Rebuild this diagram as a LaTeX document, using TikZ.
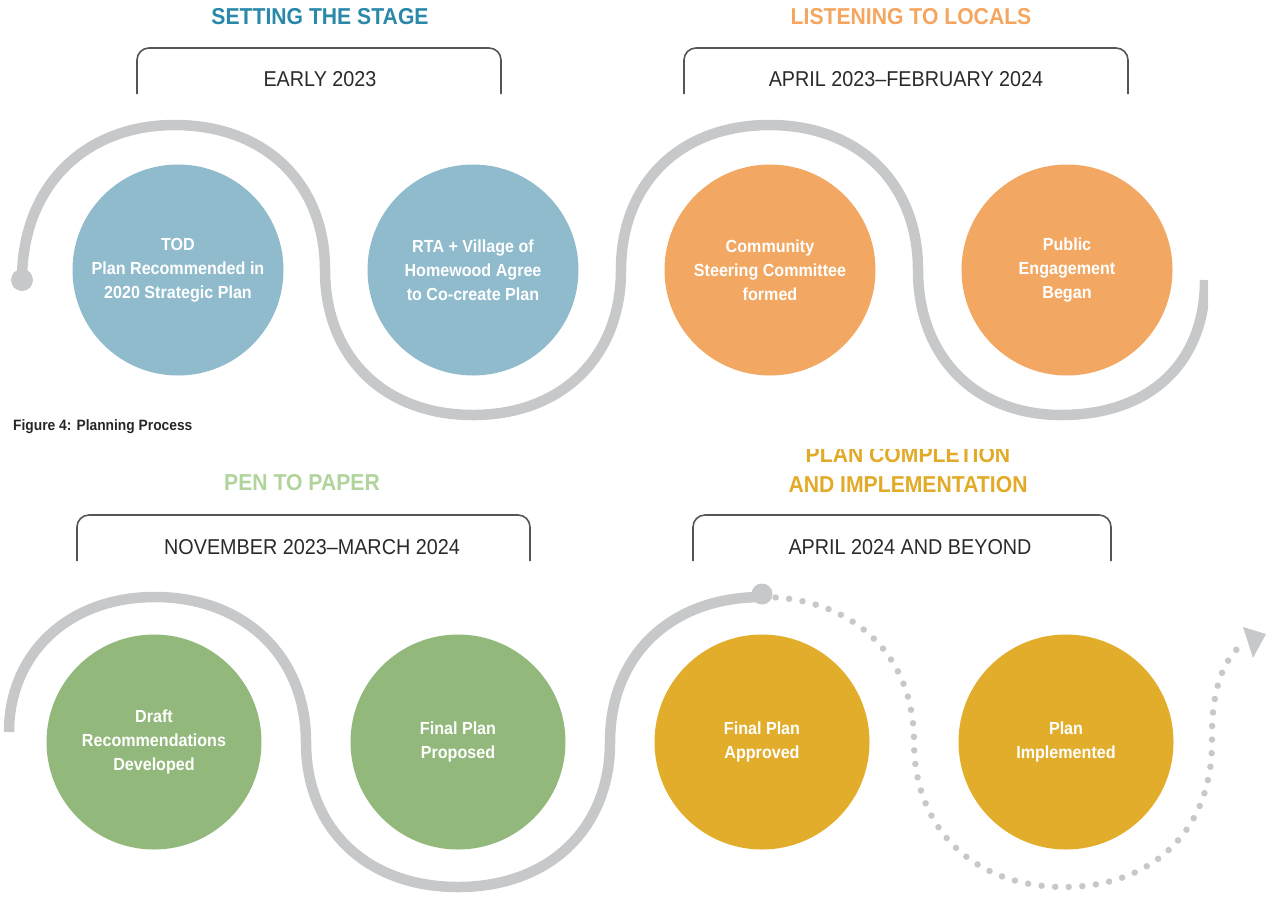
\documentclass[tikz,border=0pt]{standalone}
\usepackage{fontspec}
\setmainfont{Liberation Sans}[FakeStretch=0.92]
\definecolor{wavegray}{HTML}{C7C8CA}
\definecolor{blueA}{HTML}{8FBBCD}
\definecolor{orangeA}{HTML}{F2A862}
\definecolor{greenA}{HTML}{92B87B}
\definecolor{goldA}{HTML}{E1AD2B}
\definecolor{tealT}{HTML}{2A88A8}
\definecolor{orangeT}{HTML}{F4A660}
\definecolor{greenT}{HTML}{B0D49C}
\definecolor{goldT}{HTML}{E1AA28}
\definecolor{bracketgray}{HTML}{555555}
\definecolor{datetext}{HTML}{2A2A2A}
\begin{document}
\begin{tikzpicture}[x=1pt,y=-1pt,
  wave/.style={draw=wavegray, line width=10.5pt, line cap=butt},
  dotwave/.style={draw=wavegray, line width=6.5pt, line cap=round, dash pattern=on 0pt off 13.6pt},
  bubble/.style={circle, inner sep=0pt, minimum size=211pt, text=white, align=center,
    font=\fontsize{17.5}{24}\selectfont\bfseries},
  lowbubble/.style={bubble, minimum size=215pt},
  phase/.style={inner sep=0pt, align=center, font=\fontsize{23}{30}\selectfont\bfseries},
  datelabel/.style={inner sep=0pt, text=datetext, font=\fontsize{21.5}{24}\selectfont},
  bracket/.style={draw=bracketgray, line width=1.6pt, rounded corners=12pt},
  enddot/.style={circle, fill=wavegray, inner sep=0pt, minimum size=#1},
]
\useasboundingbox (0,0) rectangle (1273,898);

% ---------- top row ----------
\node[phase, text=tealT] (t1) at (320,17) {SETTING THE STAGE};
\node[phase, text=orangeT] (t2) at (911,17) {LISTENING TO LOCALS};
\draw[bracket] (137,94) -- (137,48) -- (501,48) -- (501,94);
\draw[bracket] (684,94) -- (684,48) -- (1128,48) -- (1128,94);
\node[datelabel] (d1) at (320,79) {EARLY 2023};
\node[datelabel] (d2) at (906,79) {APRIL 2023–FEBRUARY 2024};

\begin{scope}
\clip (0,0) rectangle (1208,440);
\draw[wave] (22,280) .. controls (22,185) and (86,125) .. (174.5,125)
  .. controls (264.8,125) and (325,183) .. (325,270)
  .. controls (325,357) and (384.2,415) .. (473,415)
  .. controls (561.8,415) and (621,357) .. (621,270)
  .. controls (621,183) and (680.4,125) .. (769.5,125)
  .. controls (858.6,125) and (918,183) .. (918,270)
  .. controls (918,357) and (975.4,415) .. (1061.5,415)
  .. controls (1147.6,415) and (1205,365) .. (1205,280);
\end{scope}
\node[enddot=22pt] (start) at (22,280) {};

\node[bubble, fill=blueA] (c1) at (178,270) {TOD\\Plan Recommended in\\2020 Strategic Plan};
\node[bubble, fill=blueA] (c2) at (473,270) {RTA + Village of\\Homewood Agree\\to Co-create Plan};
\node[bubble, fill=orangeA] (c3) at (770,270) {Community\\Steering Committee\\formed};
\node[bubble, fill=orangeA] (c4) at (1067,270) {Public\\Engagement\\Began};

\node[anchor=west, inner sep=0pt, text=black!85, font=\fontsize{15}{17}\selectfont\bfseries] (cap) at (13,427) {Figure 4: Planning Process};

% ---------- bottom row ----------
\node[phase, text=greenT] (t3) at (302,483) {PEN TO PAPER};
\begin{scope}
\clip (600,449) rectangle (1200,520);
\node[phase, text=goldT] (t4) at (908,470) {PLAN COMPLETION\\AND IMPLEMENTATION};
\end{scope}
\draw[bracket] (77,561) -- (77,515) -- (530,515) -- (530,561);
\draw[bracket] (693,561) -- (693,515) -- (1111,515) -- (1111,561);
\node[datelabel] (d3) at (312,547) {NOVEMBER 2023–MARCH 2024};
\node[datelabel] (d4) at (910,547) {APRIL 2024 AND BEYOND};

\draw[wave] (9,732) .. controls (9,655) and (67,597) .. (155,597)
  .. controls (243,597) and (306,655) .. (306,742)
  .. controls (306,829) and (367,887) .. (458,887)
  .. controls (549,887) and (610,829) .. (610,742)
  .. controls (610,655) and (671,597) .. (762,597);
\coordinate (arrowend) at (1245,642);
\draw[dotwave] (762,597) .. controls (853,597) and (914,655) .. (914,742)
  .. controls (914,829) and (974,887) .. (1064,887)
  .. controls (1154,887) and (1212,829) .. (1212,742)
  .. controls (1211,690) and (1223,658) .. (arrowend);
\fill[wavegray] (1243,627) -- (1266,634) -- (1253,658) -- cycle;
\node[enddot=21pt] (mid) at (762,594) {};

\node[lowbubble, fill=greenA] (c5) at (154,742) {Draft\\Recommendations\\Developed};
\node[lowbubble, fill=greenA] (c6) at (458,742) {Final Plan\\Proposed};
\node[lowbubble, fill=goldA] (c7) at (762,742) {Final Plan\\Approved};
\node[lowbubble, fill=goldA] (c8) at (1066,742) {Plan\\Implemented};
\end{tikzpicture}
\end{document}
